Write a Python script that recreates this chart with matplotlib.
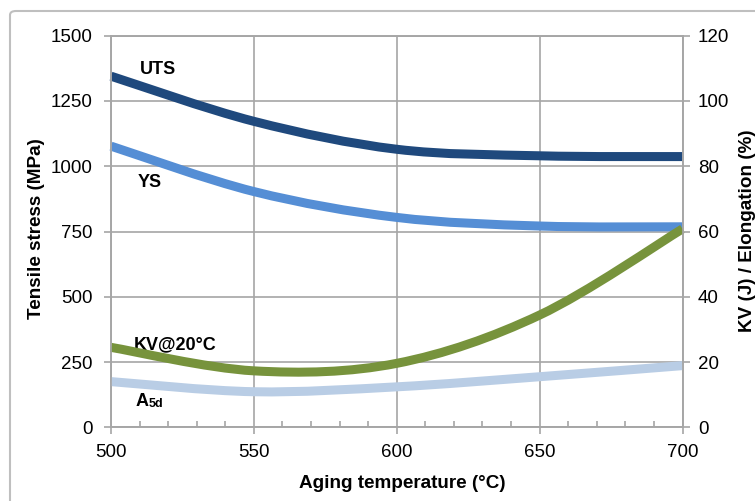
import matplotlib

matplotlib.use("Agg")
import matplotlib.pyplot as plt
import numpy as np
from matplotlib.patches import FancyBboxPatch, PathPatch
from matplotlib.path import Path
from matplotlib.ticker import MultipleLocator

plt.rcParams["font.family"] = ["Liberation Sans", "DejaVu Sans"]

# aging temperature (°C)
temps = [500, 550, 600, 650, 700]
# left axis, tensile stress (MPa)
uts = [1345, 1172, 1065, 1040, 1037]
ys = [1077, 903, 804, 771, 768]
# right axis, KV (J) and elongation A5d (%)
kv20 = [24.5, 17.3, 19.6, 34.4, 60.8]
a5d = [14.0, 10.9, 12.4, 15.5, 18.9]

x_ticks = [500, 550, 600, 650, 700]
left_ticks = [0, 250, 500, 750, 1000, 1250, 1500]
right_ticks = [0, 20, 40, 60, 80, 100, 120]

C_UTS = "#1F497D"
C_YS = "#558ED5"
C_KV = "#77933C"
C_A5 = "#B9CDE5"
GRID = "#a6a6a6"
LW = 6.5


def smooth_path(x, y):
    # excel-style smoothed line: catmull-rom segments as cubic beziers
    pts = np.column_stack([x, y]).astype(float)
    n = len(pts)
    verts = [pts[0]]
    codes = [Path.MOVETO]
    for i in range(n - 1):
        p0 = pts[max(i - 1, 0)]
        p1 = pts[i]
        p2 = pts[i + 1]
        p3 = pts[min(i + 2, n - 1)]
        verts += [p1 + (p2 - p0) / 6, p2 - (p3 - p1) / 6, p2]
        codes += [Path.CURVE4] * 3
    return Path(verts, codes)


def draw_series(ax, x, y, color):
    ax.add_patch(PathPatch(smooth_path(x, y), fill=False, edgecolor=color,
                           lw=LW, capstyle="butt", joinstyle="round", clip_on=False))


fig = plt.figure(figsize=(7.55, 5.01), dpi=100)
ax = fig.add_axes([111 / 755, 73.7 / 501, 571.5 / 755, 391.6 / 501])
ax2 = ax.twinx()

ax.set_xlim(500, 700)
ax.set_ylim(0, 1500)
ax2.set_ylim(0, 120)
ax.set_xticks(x_ticks)
ax.set_yticks(left_ticks)
ax2.set_yticks(right_ticks)
ax.xaxis.set_minor_locator(MultipleLocator(10))

ax.grid(True, color=GRID, lw=1.2)
ax.set_axisbelow(True)
for a in (ax, ax2):
    for s in a.spines.values():
        s.set_color(GRID)
        s.set_linewidth(1.2)

ax.tick_params(axis="both", which="major", direction="out", length=5, width=1.2,
               color=GRID, labelsize=13.5, labelcolor="black")
ax.tick_params(axis="y", pad=8)
ax.tick_params(axis="x", pad=7)
ax.tick_params(axis="x", which="minor", direction="in", length=4, width=1.2, color=GRID)
ax2.tick_params(axis="y", direction="out", length=5, width=1.2, color=GRID,
                labelsize=13.5, labelcolor="black", pad=6)

draw_series(ax, temps, uts, C_UTS)
draw_series(ax, temps, ys, C_YS)
draw_series(ax2, temps, kv20, C_KV)
draw_series(ax2, temps, a5d, C_A5)

lab = dict(fontsize=13, fontweight="bold", color="black")
ax.text(516.3, 1371, "UTS", ha="center", va="center", **lab)
ax.text(513.5, 938, "YS", ha="center", va="center", **lab)
ax.text(522.6, 315, "KV@20°C", ha="center", va="center", **lab)
ta = ax.text(508.7, 99, "A", ha="left", va="center", **lab)
ax.annotate("5d", xy=(1.0, 0.02), xycoords=ta, ha="left", va="bottom",
            fontsize=9, fontweight="bold", color="black")

fig.text(402 / 755, 1 - 483 / 501, "Aging temperature (°C)", ha="center", va="center",
         fontsize=13.6, fontweight="bold")
fig.text(36.7 / 755, 1 - 229 / 501, "Tensile stress (MPa)", ha="center", va="center",
         rotation=90, fontsize=13.6, fontweight="bold")
fig.text(747 / 755, 1 - 231 / 501, "KV (J) / Elongation (%)", ha="center", va="center",
         rotation=90, fontsize=13.6, fontweight="bold")

# outer chart frame (runs off the right and bottom edge)
fig.patches.append(FancyBboxPatch((10 / 755, -0.1), 1.2, 490 / 501 + 0.1,
                                  boxstyle="round,pad=0,rounding_size=0.008",
                                  transform=fig.transFigure, fill=False,
                                  edgecolor="#bfbfbf", lw=1.5, zorder=-10))

fig.savefig("out.png", dpi=100)
